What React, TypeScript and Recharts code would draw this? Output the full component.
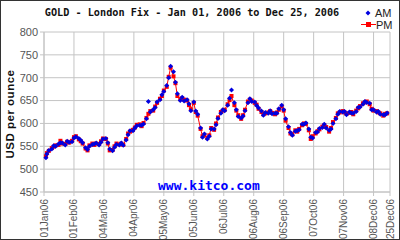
import React from 'react';
import { LineChart, Line, XAxis, YAxis, CartesianGrid } from 'recharts';

// calendar day of 2006 (0 = 01 Jan)
const days = [2,3,5,8,10,12,15,17,19,22,24,26,29,31,33,36,38,40,43,45,47,50,52,54,57,59,61,64,66,68,71,73,75,78,80,82,85,87,89,92,94,96,99,101,103,106,108,110,113,115,117,120,122,124,127,129,131,134,136,138,141,143,145,148,150,152,155,157,159,162,164,166,169,171,173,176,178,180,183,185,187,190,192,194,197,199,201,204,206,208,211,213,215,218,220,222,225,227,229,232,234,236,239,241,243,246,248,250,253,255,257,260,262,264,267,269,271,274,276,278,281,283,285,288,290,292,295,297,299,302,304,306,309,311,313,316,318,320,323,325,327,330,332,334,337,339,341,344,346,348,351,353,355];

const pmFix = [
  528,535,540, 546,549,552, 553,562,556, 555,560,558, 562,570,572, 565,561,556,
  545,541,552, 556,553,556, 555,561,567, 566,556,541, 542,550,556, 554,556,553,
  566,578,582, 586,591,597, 598,594,601, 612,621,627, 628,637,645, 654,660,672,
  680,702,722, 703,688,660, 653,655,652, 650,640,631, 645,625,617, 588,572,575,
  568,574,590, 586,600,613, 625,628,630, 642,651,660, 640,628,618, 610,618,630,
  648,652,650, 645,641,632, 625,620,622, 624,627,623, 620,624,630, 637,628,606,
  590,578,576, 585,582,588, 596,600,599, 585,566,572, 578,583,587, 593,596,592,
  582,590,603, 612,622,624, 627,624,621, 623,625,620, 628,633,638, 644,646,648,
  642,632,628, 627,624,622, 617,621,622,
];

const amFix = [
  525,533,541, 544,551,550, 555,558,557, 553,561,559, 560,568,571, 567,563,558,
  547,543,550, 554,555,557, 553,559,566, 567,558,544, 540,548,554, 553,557,552,
  564,575,584, 584,590,595, 596,596,599, 610,648,625, 630,635,647, 652,663,670,
  683,700,725, 713,690,665, 650,657,649, 652,643,628, 647,627,620, 590,570,577,
  566,572,588, 588,597,611, 622,630,628, 640,655,673, 645,630,615, 612,616,628,
  645,654,648, 647,639,634, 627,618,624, 622,628,621, 622,622,632, 640,630,610,
  593,580,574, 583,584,586, 598,598,601, 588,570,568, 580,581,589, 591,598,590,
  585,588,600, 610,620,626, 625,626,619, 625,623,622, 626,635,636, 642,648,646,
  644,630,630, 625,626,620, 619,619,623,
];

const xTicks = [0,31,62,93,124,155,186,217,248,279,310,341,358];
const xTickLabels = ['01Jan06','01Feb06','04Mar06','04Apr06','05May06','05Jun06','06Jul06','06Aug06','06Sep06','07Oct06','07Nov06','08Dec06','25Dec06'];
const yTicks = [450,500,550,600,650,700,750,800];

const data = days.map((d, i) => ({ day: d, am: amFix[i], pm: pmFix[i] }));

const RED = '#ff0000';
const BLUE = '#0000e0';
const GRID = '#c4c4c4';

const SquareDot = (props: any) => {
  const { cx, cy, index } = props;
  if (cx == null || cy == null) return <g key={'p' + index} />;
  return <rect key={'p' + index} x={cx - 2} y={cy - 2} width={4} height={4} fill={RED} />;
};

const DiamondDot = (props: any) => {
  const { cx, cy, index } = props;
  if (cx == null || cy == null) return <g key={'a' + index} />;
  return (
    <polygon
      key={'a' + index}
      points={`${cx},${cy - 2.5} ${cx + 2.5},${cy} ${cx},${cy + 2.5} ${cx - 2.5},${cy}`}
      fill={BLUE}
    />
  );
};

const XTick = (props: any) => {
  const { x, y, payload } = props;
  const idx = xTicks.indexOf(payload.value);
  const label = idx >= 0 ? xTickLabels[idx] : '';
  return (
    <text
      x={x}
      y={y + 1}
      transform={`rotate(-90, ${x}, ${y + 1})`}
      textAnchor="end"
      dominantBaseline="central"
      fontSize={10}
      fontFamily="'Liberation Sans', Arial, sans-serif"
      fill="#555"
    >
      {label}
    </text>
  );
};

export default function App() {
  return (
    <div
      style={{
        position: 'absolute',
        left: 0,
        top: 0,
        width: 400,
        height: 240,
        background: '#fff',
        boxSizing: 'border-box',
        border: '1px solid #333',
        overflow: 'hidden',
      }}
    >
      <div style={{ position: 'absolute', left: -1, top: -1 }}>
        <LineChart
          width={400}
          height={240}
          data={data}
          margin={{ top: 32, right: 10, left: 0, bottom: 0 }}
        >
          <CartesianGrid stroke={GRID} strokeWidth={1} />
          <XAxis
            dataKey="day"
            type="number"
            domain={[0, 358]}
            ticks={xTicks}
            interval={0}
            height={48}
            tick={<XTick />}
            tickSize={4}
            stroke={GRID}
            tickLine={{ stroke: GRID }}
            axisLine={{ stroke: GRID }}
          />
          <YAxis
            type="number"
            domain={[450, 800]}
            ticks={yTicks}
            interval={0}
            width={44}
            tickSize={4}
            tickLine={{ stroke: GRID }}
            axisLine={{ stroke: GRID }}
            tick={{ fontSize: 11, fill: '#555', fontFamily: "'Liberation Sans', Arial, sans-serif" }}
          />
          <Line
            dataKey="pm"
            stroke={RED}
            strokeWidth={1}
            dot={<SquareDot />}
            activeDot={false}
            isAnimationActive={false}
          />
          <Line
            dataKey="am"
            stroke="none"
            dot={<DiamondDot />}
            activeDot={false}
            isAnimationActive={false}
          />
        </LineChart>
      </div>

      {/* Title */}
      <div
        style={{
          position: 'absolute',
          left: 0,
          top: 5,
          width: 382,
          textAlign: 'center',
          fontFamily: "'DejaVu Sans Mono', monospace",
          fontWeight: 'bold',
          fontSize: 10.2,
          lineHeight: '14px',
          color: '#111',
          whiteSpace: 'nowrap',
        }}
      >
        GOLD - London Fix - Jan 01, 2006 to Dec 25, 2006
      </div>

      {/* Legend and axis title */}
      <svg style={{ position: 'absolute', left: 0, top: 0 }} width={400} height={240}>
        <polygon points="367,9.5 369.5,12 367,14.5 364.5,12" fill={BLUE} />
        <text x={374} y={12} dominantBaseline="central" fontSize={11} fontFamily="'Liberation Sans', Arial, sans-serif" fill="#222">AM</text>
        <line x1={360} y1={23.5} x2={375} y2={23.5} stroke={RED} strokeWidth={1} />
        <rect x={365} y={21} width={5} height={5} fill={RED} />
        <text x={375} y={23.5} dominantBaseline="central" fontSize={11} fontFamily="'Liberation Sans', Arial, sans-serif" fill="#222">PM</text>
        <text
          transform="translate(9, 113) rotate(-90)"
          textAnchor="middle"
          dominantBaseline="central"
          fontSize={11.5}
          letterSpacing={0.5}
          fontWeight="bold"
          fontFamily="'Liberation Sans', Arial, sans-serif"
          fill="#111"
        >
          USD per ounce
        </text>
      </svg>

      {/* Watermark */}
      <div
        style={{
          position: 'absolute',
          left: 157,
          top: 177,
          fontFamily: "'DejaVu Sans Mono', monospace",
          fontWeight: 'bold',
          fontSize: 13,
          lineHeight: '15px',
          color: '#0000ff',
          whiteSpace: 'nowrap',
        }}
      >
        www.kitco.com
      </div>
    </div>
  );
}
